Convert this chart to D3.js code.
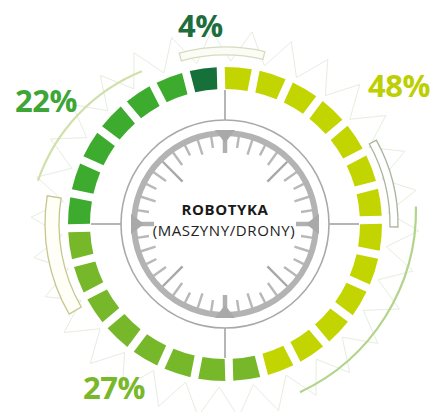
<!DOCTYPE html>
<html><head><meta charset="utf-8">
<script src="https://cdn.jsdelivr.net/npm/d3@7"></script>
<style>html,body{margin:0;padding:0;background:#fff;} svg{display:block;}</style>
</head><body><svg id="c" width="440" height="412"></svg>
<script>
// ---- data ----
const categories = ["4%", "48%", "27%", "22%"];
const shares = [4, 48, 27, 22];
const segmentCounts = [1, 13, 8, 6];
const centerTitle = "ROBOTYKA";
const centerSubtitle = "(MASZYNY/DRONY)";

// ---- style ----
const segColors = ["#16703a", "#c3d500", "#76b82a", "#3dab2e"];
const labelColors = ["#1d6d3d", "#bccf00", "#78b82a", "#3ea637"];

const W = 440, H = 412, cx = 225, cy = 224;
const rad = d => d * Math.PI / 180;
const svg = d3.select("#c");
const g = svg.append("g").attr("transform", `translate(${cx},${cy})`);

// decorative zigzag
const teeth = 30;
const zz = d3.range(teeth * 2 + 1).map(k => [rad(-4 + k * 6), k % 2 === 0 ? 194 : 163]);
g.append("path")
  .attr("d", d3.lineRadial().angle(d => d[0]).radius(d => d[1])(zz))
  .attr("fill", "none").attr("stroke", "#e6ede0").attr("stroke-width", 1);

// hollow bands
const band = d3.arc();
[
  {r0: 169, r1: 177, a0: -15, a1: 13, stroke: "#d6dbbf", fill: "#fbfcf6"},
  {r0: 165, r1: 173, a0: 61, a1: 91, stroke: "#a9b59a", fill: "#ffffff"},
  {r0: 166, r1: 180, a0: 240, a1: 279, stroke: "#c6c68e", fill: "#fffff8"}
].forEach(b => {
  g.append("path")
    .attr("d", band({innerRadius: b.r0, outerRadius: b.r1, startAngle: rad(b.a0), endAngle: rad(b.a1)}))
    .attr("fill", b.fill).attr("stroke", b.stroke).attr("stroke-width", 1.3);
});

// thin arcs
const thin = d3.arc();
[
  {x: 210, y: 240, r: 182, a0: 289, a1: 338, stroke: "#cfe0a8"},
  {x: 215, y: 210, r: 201, a0: 89, a1: 155, stroke: "#b2d48a"}
].forEach(a => {
  svg.append("path")
    .attr("transform", `translate(${a.x},${a.y})`)
    .attr("d", thin({innerRadius: a.r, outerRadius: a.r, startAngle: rad(a.a0), endAngle: rad(a.a1)}))
    .attr("fill", "none").attr("stroke", a.stroke).attr("stroke-width", 2.2).attr("stroke-linecap", "round");
});

// segments
const segs = [];
categories.forEach((c, ci) => d3.range(segmentCounts[ci]).forEach(() => segs.push({ci})));
const total = segs.length;
const step = 360 / total;
const angle = d3.scaleLinear().domain([0, total]).range([rad(-8 - step / 2), rad(-8 - step / 2 + 360)]);
const color = d3.scaleOrdinal().domain(d3.range(categories.length)).range(segColors);
const segArc = d3.arc().innerRadius(135).outerRadius(157).padRadius(146).padAngle(8 / 146);
g.selectAll("path.seg").data(segs).join("path").attr("class", "seg")
  .attr("d", (d, i) => segArc({startAngle: angle(i), endAngle: angle(i + 1)}))
  .attr("fill", d => color(d.ci));

// clock
const cardinal = [0, 90, 180, 270];
g.selectAll("line.cross").data(cardinal).join("line").attr("class", "cross")
  .attr("x1", d => 91 * Math.sin(rad(d))).attr("y1", d => -91 * Math.cos(rad(d)))
  .attr("x2", d => 134 * Math.sin(rad(d))).attr("y2", d => -134 * Math.cos(rad(d)))
  .attr("stroke", "#9c9c9c").attr("stroke-width", 1.5);
g.append("circle").attr("r", 104).attr("fill", "#fff").attr("stroke", "#a9a9a9").attr("stroke-width", 1.6);

const tickAngles = d3.range(40).map(k => k * 9);
const tickSpec = k => k % 10 === 0 ? {r0: 71, r1: 88, w: 4.5, c: "#b0b0b0"}
  : k % 5 === 0 ? {r0: 60, r1: 88, w: 2.4, c: "#a8a8a8"}
  : {r0: k % 2 === 0 ? 73 : 77, r1: 89, w: 2.4, c: "#b8b8b8"};
const tickG = g.append("g");
tickAngles.forEach((a, k) => {
  const s = tickSpec(k);
  tickG.append("line")
    .attr("x1", s.r0 * Math.sin(rad(a))).attr("y1", -s.r0 * Math.cos(rad(a)))
    .attr("x2", s.r1 * Math.sin(rad(a))).attr("y2", -s.r1 * Math.cos(rad(a)))
    .attr("stroke", s.c).attr("stroke-width", s.w);
});
g.append("circle").attr("r", 91).attr("fill", "none").attr("stroke", "#b3b3b3").attr("stroke-width", 6);
g.selectAll("path.ptr").data(cardinal).join("path").attr("class", "ptr")
  .attr("transform", d => `rotate(${d})`)
  .attr("d", "M-10,-94 L10,-94 L0,-81 Z")
  .attr("fill", "#a9a9a9");

g.append("text").attr("x", 0).attr("y", -9).attr("text-anchor", "middle")
  .attr("font-family", "'Open Sans', sans-serif").attr("font-weight", 700).attr("font-size", 15)
  .attr("letter-spacing", 0.6)
  .attr("fill", "#1a1a1a").text(centerTitle);
g.append("text").attr("x", -1).attr("y", 12).attr("text-anchor", "middle")
  .attr("font-family", "'Open Sans', sans-serif").attr("font-weight", 400).attr("font-size", 15)
  .attr("letter-spacing", 0.6)
  .attr("fill", "#222").text(centerSubtitle);

// labels
const labelPos = [[178, 37], [368, 97], [83, 399], [15, 112]];
svg.selectAll("text.lbl").data(categories).join("text").attr("class", "lbl")
  .attr("x", (d, i) => labelPos[i][0]).attr("y", (d, i) => labelPos[i][1])
  .attr("font-family", "'Open Sans', sans-serif").attr("font-weight", 700).attr("font-size", 31)
  .attr("letter-spacing", -0.5)
  .attr("fill", (d, i) => labelColors[i]).text((d, i) => shares[i] + "%");
</script></body></html>
